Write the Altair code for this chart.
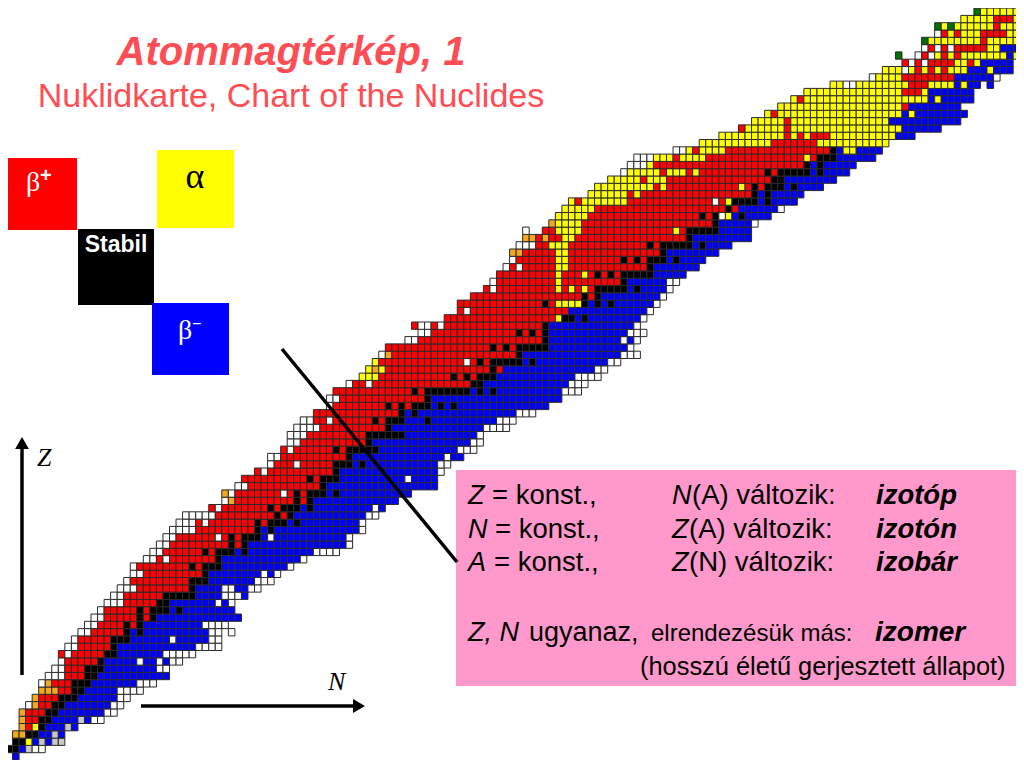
import re
import altair as alt
import pandas as pd

# Runs per proton number Z: "<N>letter<N>letter...<N>" means the cells from one
# neutron number up to the next have that decay type ('.' = empty).
ROWS_LOW = {
0:"1b2",1:"0k2b3s4w6",2:"1k3y4b5s6b7s9",3:"1o3k5b7s8b9",4:"2o3r4y5k6b9s10b11",
5:"2o3r5k7b11s12b13w15",6:"2o3r6k8b15w17",7:"3w4o5r7k9b16w18",8:"4o5r8k11b17w19",
9:"5o8r10k12b17w21",10:"5w6o7r10k13b20w23",11:"6w9r12k14b25",12:"7w9r12k15b23w25",
13:"8w9r14k15b20w21b23w24b25w27",14:"8r9w10r15k17b24w29",15:"9w11r16k17b29w33",
16:"10w11r16k19b25w26b31w33",17:"11w13r18k19b20k21b31w33.34w35",18:"12w14r18k19r20k21b30w34",
19:"13w15r20k21r22k23b36",20:"14w15r20k21r22k25b26k27b35",21:"15w18r23k25b32w33b34w35",
22:"16w18r24k29b33w36b37",23:"17w20r28k29b33w35b37w39",24:"18w19r28k31b38w41",
25:"19w21r30k31b39w40b41w42",26:"19w20r28k29r30k33b43w44",27:"21w23r24w25r32k33b45w46",
28:"22w24r30k31r32k35b36k37b47w51",29:"23w25r34k35r36k37b52w53",
30:"24w26r32w33r34k35r36k39b40w41b52w53",31:"25w29r38k39b40k41b54w55",
32:"26w29r30w31r38k39r40k43b44k45b54w55",33:"27w32r41k42r43k44b55w57",
34:"31r32w33r40k41r42k45b46k47b56w57b58",
}
ROWS_MID = {
35:"33w34o35r44k45r46k47b60",36:"33o34w35r42w43r44k45r46k49b50k51b62",37:"35w37r48k49b66",
38:"36r46k47r48k51b61w62b66",39:"38r39w40r50k51b66w67",40:"40w41r44w45r50k53b54k55b66w68",
41:"40w42r52k53b67w68b70",42:"42r43w44r50k51r52k57b69w72",43:"43w45r55k56b71w73",
44:"43w46r55k61b72w73",45:"44w48r58k59b73w77",46:"45w47r49w50r56k57r58k61b64k65b75w78",
47:"47r60k61b62k63b78w81",48:"49w50r58k59r60k61r62k65b66k67b68k69b83",49:"49w51r64k65b85",
50:"50r62k63r64k71b72k73b74k75b85w88",51:"52w53r55w56r71k73b86w89",
52:"54y57r68k69r70k71r72k75b87w91",53:"55y56o57y58r74k75r76b90w92",
54:"56y57r70w71r72k73r74k79b80k81b92w94",55:"57w58o59r78k79b94w97",
56:"58r74k75r76k77r78k83b95w96",57:"61w63r82k83b94w95b96w97",
58:"63w65r78k79r80k81r82k83b95w98",59:"62r63w65r66w67r82k83b96w97",
60:"67r84y85k87b88k89b97w98",61:"69r70w71r86b98w99",
62:"69r82k83r84y88k89b90k91b92k93b99w100",63:"71r88k89r90k91b100w101",
64:"73r74w75r84y85r86y87r88y89r90k95b96k97b101w102",65:"74w75r84y85r94k95b101w103",
66:"75r84y85r88y89r90k91r92k93r94k99b104",67:"76w77r78w79r84y86r98k99b106",
68:"77w78r84y86r94k95r96k97r98k101b102k103b107",
}
ROWS_HIGH = {
69:"77o79r84y86r100k101b109",70:"78w81r83y86r98k99r100k105b106k107b111",
71:"79o81r82o83r85y87r104k105b114",72:"79w80.82r84y88r102y103r104k109b114",
73:"83o84y88r108k109b114w115",74:"84y89r106k107r108k109w110y111b112k113b117",
75:"85y90r110k111r112b118w119",76:"86y87r88y95r108w109r110y111k115b116k117b121",
77:"89y95r96y97r114k115b116k117b122",78:"90y99r100y101r112y113r114k115r116k119b120k121b125",
79:"92y97r98y101r117k119b127",80:"94w95y100r101y104r105y106r116k117r118k123b124k125b129",
81:"95w98y99r122k123b124k125b130",82:"96w99y102r103y107r122y123r124k127b133",
83:"102w104y105r106y110r126k127b128y130b134",84:"106y117r124y135",
85:"109y119r120y121r122y123r126y136b139",86:"112r113y119r120y137b143",
87:"114y119r120y135b146",88:"116y117r118y137b138y139b147",89:"118y137r138b146",
90:"120y121r122y141b142y143b148",91:"122y137r140y141b148",
92:"126y128w130y138r141y145b146y147b149.150b151",93:"132w133y137r145b151w152",
94:"134y137w138y139r140y141r142y143r144y147b150y151b154",95:"137r138w139r140w141r145y147r148y149b154",
96:"136g137.139w140r141w142y143r144y145r146y153b154y155b156",97:"140w141r142w143r144w145r150y152b155w156",
98:"140g141y149r150y155b156",99:"142w143r144y145r146y149r153y156",
100:"142g143y144g145y151r152y156",101:"146y151r154y156",102:"148g149y156",
}

TYPE_NAMES = {"r":"beta+","b":"beta-","k":"stable","y":"alpha","o":"orange","w":"white","s":"grey","g":"green"}
TYPE_DOMAIN = ["beta+","beta-","stable","alpha","orange","white","grey","green"]
TYPE_COLORS = ["#ff0000","#0000ff","#000000","#ffff00","#f5a81c","#ffffff","#c8c8c8","#007000"]

records = []
for rows in (ROWS_LOW, ROWS_MID, ROWS_HIGH):
    for z, s in rows.items():
        tok = re.findall(r"\d+|[a-z.]", s)
        for i in range(0, len(tok) - 2, 2):
            a, c, b = int(tok[i]), tok[i + 1], int(tok[i + 2])
            if c == ".":
                continue
            for n in range(a, b):
                records.append({"N": n, "N2": n + 1, "Z": z, "Z2": z + 1, "t": TYPE_NAMES[c]})
cells = pd.DataFrame(records)

OFF = 8
W, H = 1008, 752
def px(v):
    return v - OFF

nx = alt.Scale(domain=[(8 - 6) / 6.54, (1016 - 6) / 6.54], nice=False, zero=False)
ny = alt.Scale(domain=[(760 - 760) / 7.3, (760 - 8) / 7.3], nice=False, zero=False)

grid = alt.Chart(cells).mark_rect(stroke="#2a2a2a", strokeWidth=1, clip=True).encode(
    x=alt.X("N:Q", scale=nx, axis=None),
    x2="N2:Q",
    y=alt.Y("Z:Q", scale=ny, axis=None),
    y2="Z2:Q",
    color=alt.Color("t:N", scale=alt.Scale(domain=TYPE_DOMAIN, range=TYPE_COLORS), legend=None),
)

one = alt.Data(values=[{"a": 1}])

def box(x0, y0, x1, y1, color):
    return alt.Chart(one).mark_rect(color=color).encode(
        x=alt.value(max(px(x0), 0)), x2=alt.value(min(px(x1), W)), y=alt.value(px(y0)), y2=alt.value(px(y1)))

def line(x0, y0, x1, y1, w=3.5):
    return alt.Chart(one).mark_rule(color="black", strokeWidth=w).encode(
        x=alt.value(px(x0)), x2=alt.value(px(x1)), y=alt.value(px(y0)), y2=alt.value(px(y1)))

def head(x, y, shape):
    return alt.Chart(one).mark_point(shape=shape, filled=True, color="black", size=190, opacity=1).encode(
        x=alt.value(px(x)), y=alt.value(px(y)))

def text(s, x, y, size, color="black", font="Liberation Sans", align="left", **kw):
    return alt.Chart(one).mark_text(align=align, baseline="alphabetic", font=font, fontSize=size,
                                    color=color, **kw).encode(
        x=alt.value(px(x)), y=alt.value(px(y)), text=alt.value(s))

TITLE_RED = "#ff4d55"
SERIF = "Liberation Serif"
layers = [
    grid,
    box(456, 470, 1024, 686, "#ff99cc"),
    box(0, 158, 77, 230, "#ff0000"),
    box(157, 150, 234, 228, "#ffff00"),
    box(78, 229, 154, 305, "#000000"),
    box(152, 303, 229, 375, "#0000ff"),
    line(282, 349, 457, 562),
    line(22, 675, 22, 445),
    head(22, 443, "triangle-up"),
    line(141, 706, 358, 706),
    head(359, 706, "triangle-right"),
    text("Atommagtérkép, 1", 291, 65, 40, TITLE_RED, align="center", fontWeight="bold", fontStyle="italic"),
    text("Nuklidkarte, Chart of the Nuclides", 291, 107, 34, TITLE_RED, align="center"),
    text("β", 26, 191, 28, "white", SERIF),
    text("+", 40, 182, 20, "white", fontWeight="bold"),
    text("α", 195, 188, 36, "black", SERIF, align="center"),
    text("Stabil", 116, 252, 23, "white", align="center", fontWeight="bold"),
    text("β", 178, 339, 28, "white", SERIF),
    text("−", 192, 329, 16, "white"),
    text("Z", 37, 466, 26, "black", SERIF, fontStyle="italic"),
    text("N", 328, 690, 26, "black", SERIF, fontStyle="italic"),
    text("Z", 468, 504, 27, fontStyle="italic"),
    text("= konst.,", 492, 504, 27.5),
    text("N", 672, 504, 27, fontStyle="italic"),
    text("(A) változik:", 692, 504, 27.5),
    text("izotóp", 876, 504, 27.5, fontWeight="bold", fontStyle="italic"),
    text("N", 468, 538, 27, fontStyle="italic"),
    text("= konst.,", 495, 538, 27.5),
    text("Z", 672, 538, 27, fontStyle="italic"),
    text("(A) változik:", 689, 538, 27.5),
    text("izotón", 876, 538, 27.5, fontWeight="bold", fontStyle="italic"),
    text("A", 468, 571, 27, fontStyle="italic"),
    text("= konst.,", 494, 571, 27.5),
    text("Z", 672, 571, 27, fontStyle="italic"),
    text("(N) változik:", 689, 571, 27.5),
    text("izobár", 876, 571, 27.5, fontWeight="bold", fontStyle="italic"),
    text("Z, N", 468, 641, 27, fontStyle="italic"),
    text("ugyanaz,", 529, 641, 27),
    text("elrendezésük más:", 651, 641, 24),
    text("izomer", 875, 641, 28, fontWeight="bold", fontStyle="italic"),
    text("(hosszú életű gerjesztett állapot)", 640, 675, 25.4),
]

chart = alt.layer(*layers).properties(width=W, height=H, padding=0, background="white").configure_view(stroke=None)
chart.save("out.html", embed_options={"renderer": "svg", "actions": False})
